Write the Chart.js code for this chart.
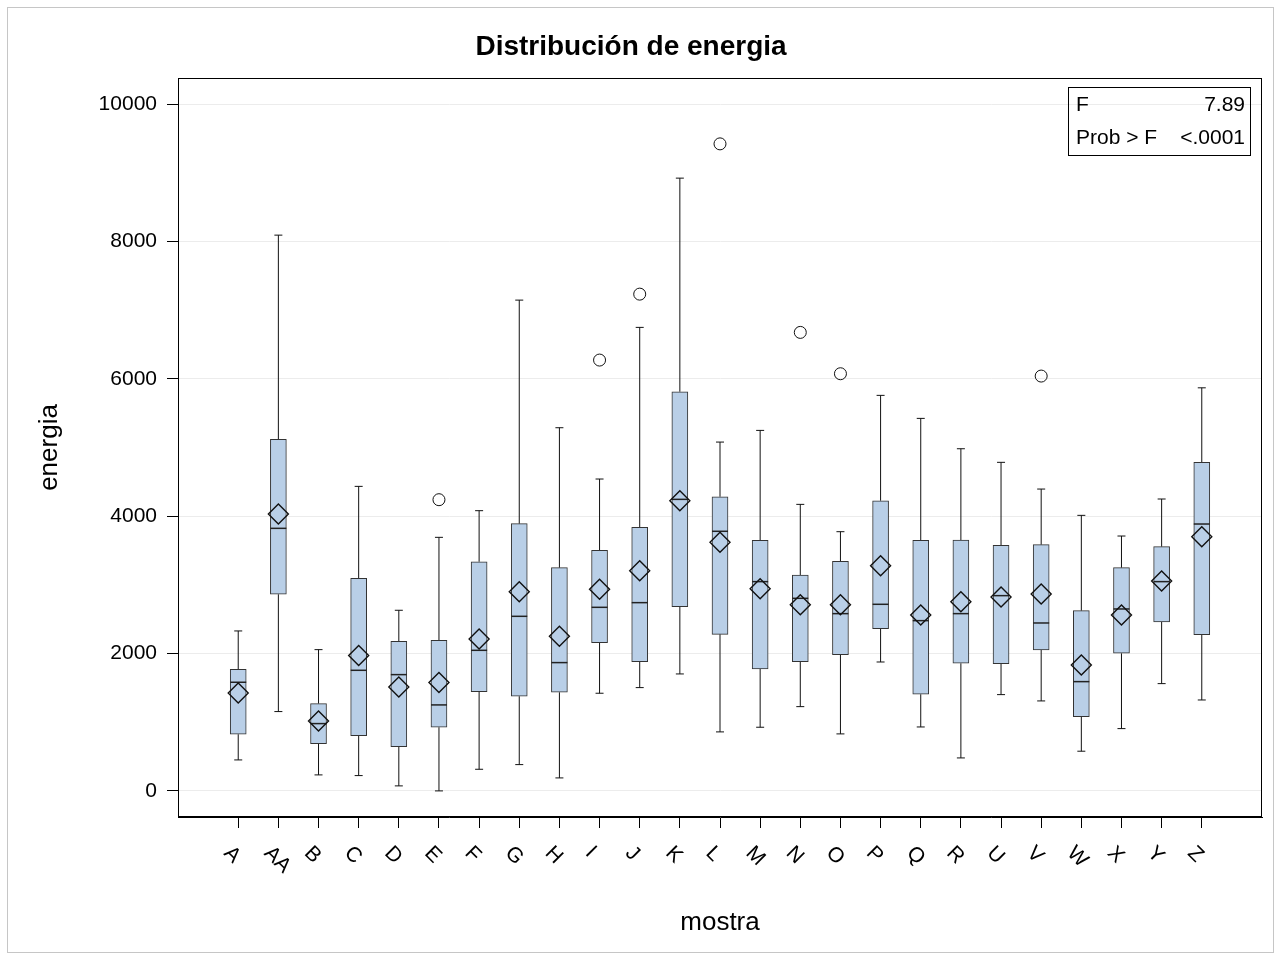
<!DOCTYPE html>
<html><head><meta charset="utf-8">
<script src="https://cdn.jsdelivr.net/npm/chart.js@4/dist/chart.umd.min.js"></script>
<style>html,body{margin:0;padding:0;background:#fff;}canvas{display:block;}</style>
</head><body>
<canvas id="c" width="1280" height="959"></canvas>
<script>
const categories = ['A','AA','B','C','D','E','F','G','H','I','J','K','L','M','N','O','P','Q','R','U','V','W','X','Y','Z'];
const whiskerLow  = [451,1155,233,223,73,0,315,383,189,1422,1504,1703,859,927,1227,830,1877,931,480,1402,1310,578,907,1562,1324];
const q1Values    = [825,2863,689,806,645,927,1446,1378,1436,2159,1882,2683,2280,1776,1882,1984,2362,1407,1858,1853,2052,1082,2004,2460,2275];
const medianValues= [1582,3823,980,1756,1693,1252,2047,2542,1868,2673,2741,4245,3780,3047,2804,2581,2717,2479,2581,2843,2445,1591,2649,3047,3886];
const meanValues  = [1426,4031,1019,1970,1514,1577,2212,2901,2251,2935,3207,4225,3619,2944,2712,2712,3279,2561,2755,2824,2867,1834,2561,3056,3701];
const q3Values    = [1771,5118,1271,3095,2178,2193,3337,3891,3250,3503,3838,5812,4283,3648,3144,3343,4225,3648,3653,3576,3585,2624,3250,3556,4784];
const whiskerHigh = [2329,8092,2057,4434,2630,3692,4080,7146,5288,4541,6749,8922,5079,5249,4172,3774,5759,5424,4982,4784,4395,4012,3711,4250,5869];
const outlierCats   = ['E','I','J','L','N','O','V'];
const outlierValues = [4240,6273,7233,9421,6676,6074,6040];
const yTicks = [0,2000,4000,6000,8000,10000];
const statLabels = ['F','Prob > F'];
const statValues = ['7.89','<.0001'];

const FONT = "'Liberation Sans', Arial, sans-serif";
const idx = c => categories.indexOf(c);

const whiskerData = [];
categories.forEach((c,i)=>{
  whiskerData.push({x:i,y:whiskerLow[i]},{x:i,y:q1Values[i]},{x:i,y:null},
                   {x:i,y:q3Values[i]},{x:i,y:whiskerHigh[i]},{x:i,y:null});
});
const boxData = categories.map((c,i)=>({x:i,y:[q1Values[i],q3Values[i]]}));
const capData = categories.flatMap((c,i)=>[{x:i,y:whiskerLow[i]},{x:i,y:whiskerHigh[i]}]);
const medData = categories.map((c,i)=>({x:i,y:medianValues[i]}));
const meanData = categories.map((c,i)=>({x:i,y:meanValues[i]}));
const outData = outlierCats.map((c,k)=>({x:idx(c),y:outlierValues[k]}));

const framePlugin = {
  id:'frames',
  beforeDraw(chart){
    const ctx = chart.ctx;
    ctx.save();
    ctx.fillStyle='#fff'; ctx.fillRect(0,0,chart.width,chart.height);
    ctx.strokeStyle='#c6c6c6'; ctx.lineWidth=1;
    ctx.strokeRect(7.5,7.5,1266,945);
    ctx.restore();
  },
  afterDraw(chart){
    const ctx = chart.ctx, a = chart.chartArea, xs = chart.scales.x;
    ctx.save();
    ctx.strokeStyle='#000'; ctx.lineWidth=1;
    ctx.strokeRect(Math.round(a.left)+0.5, Math.round(a.top)+0.5, Math.round(a.right-a.left)-1, Math.round(a.bottom-a.top)-1);
    // category labels rotated 45deg clockwise
    ctx.font = '21px ' + FONT; ctx.fillStyle='#000';
    ctx.textAlign='left'; ctx.textBaseline='middle';
    categories.forEach((c,i)=>{
      const px = xs.getPixelForValue(i);
      ctx.save(); ctx.translate(px-11, 850); ctx.rotate(Math.PI/4);
      ctx.fillText(c,0,0); ctx.restore();
    });
    // inset statistics box
    const bx = a.right - 194, by = a.top + 9, bw = 182, bh = 68;
    ctx.strokeRect(Math.round(bx)+0.5, Math.round(by)+0.5, bw, bh);
    ctx.font = '21px ' + FONT;
    statLabels.forEach((t,k)=>{
      const ty = by + 18 + k*33;
      ctx.textAlign='left'; ctx.fillText(t, bx+8, ty);
      ctx.textAlign='right'; ctx.fillText(statValues[k], bx+bw-5, ty);
    });
    ctx.restore();
  }
};

new Chart(document.getElementById('c'), {
  type:'bar',
  data:{ datasets:[
    { type:'line', data:whiskerData, borderColor:'#111', borderWidth:1, pointRadius:0, spanGaps:false, order:6 },
    { type:'bar', data:boxData, backgroundColor:'#b9cfe7', borderColor:'#333', borderWidth:1, borderSkipped:false, barThickness:16, order:5 },
    { type:'line', data:capData, showLine:false, pointStyle:'line', pointRadius:4, pointBorderWidth:1, pointBorderColor:'#111', order:4 },
    { type:'line', data:medData, showLine:false, pointStyle:'line', pointRadius:8, pointBorderWidth:1.5, pointBorderColor:'#222', order:3 },
    { type:'line', data:meanData, showLine:false, pointStyle:'rectRot', pointRadius:10, pointBorderWidth:1.4, pointBorderColor:'#111', pointBackgroundColor:'rgba(0,0,0,0)', order:2 },
    { type:'line', data:outData, showLine:false, pointStyle:'circle', pointRadius:6, pointBorderWidth:1, pointBorderColor:'#111', pointBackgroundColor:'rgba(0,0,0,0)', order:1 }
  ]},
  options:{
    responsive:false, animation:false, events:[],
    layout:{ padding:{ left:0, right:18, top:0, bottom:0 } },
    plugins:{
      legend:{display:false}, tooltip:{enabled:false},
      title:{ display:true, text:'Distribución de energia', color:'#000',
        font:{ family:FONT, size:28, weight:'bold', lineHeight:1.2 }, padding:{top:30,bottom:14.4} }
    },
    scales:{
      x:{ type:'linear', min:-1.5, max:25.5, offset:false,
        afterBuildTicks:s=>{ s.ticks = categories.map((c,i)=>({value:i})); },
        ticks:{ display:false },
        grid:{ offset:false, drawOnChartArea:false, drawTicks:true, tickLength:11, color:'#000', lineWidth:1 },
        border:{ display:true, color:'#000', width:1 },
        title:{ display:true, text:'mostra', color:'#000', font:{family:FONT,size:26,lineHeight:1.2}, padding:{top:0,bottom:20.4} },
        afterFit:s=>{ s.height = 142; } },
      y:{ min:-380, max:10380,
        afterBuildTicks:s=>{ s.ticks = yTicks.map(v=>({value:v})); },
        ticks:{ font:{family:FONT,size:21}, color:'#000', padding:10, callback:v=>String(v) },
        grid:{ color:'#ececec', tickColor:'#000', tickLength:11, lineWidth:1 },
        border:{ display:true, color:'#000', width:1 },
        title:{ display:true, text:'energia', color:'#000', font:{family:FONT,size:26,lineHeight:1.2}, padding:{top:34.4,bottom:0} },
        afterFit:s=>{ s.width = 178; } }
    }
  },
  plugins:[framePlugin]
});
</script>
</body></html>
